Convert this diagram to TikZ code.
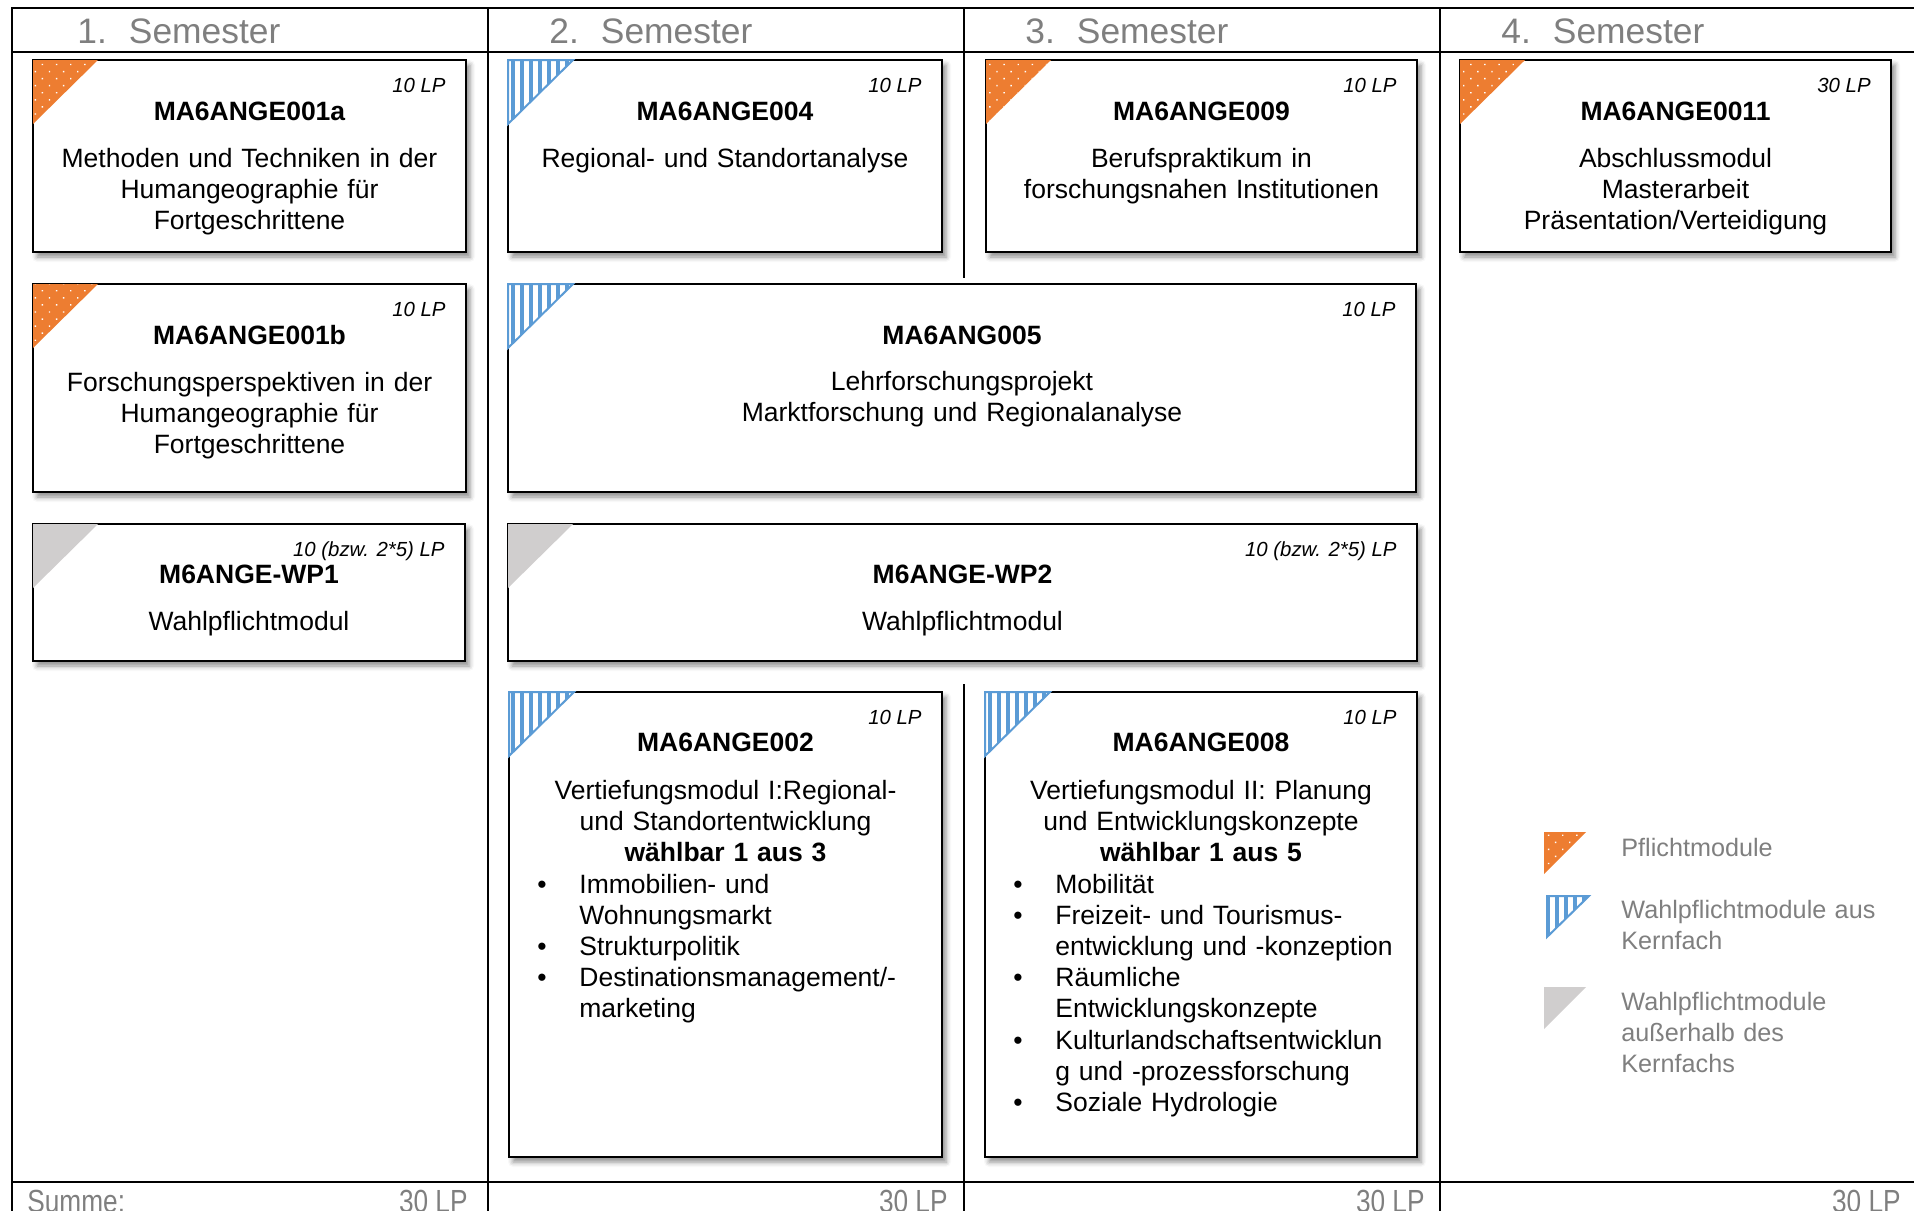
\documentclass[tikz,border=0pt]{standalone}
\usepackage{fontspec}
\setmainfont{Liberation Sans}
\usepackage{graphicx}
\usepackage{tikz}
\usetikzlibrary{patterns.meta}
\usetikzlibrary{shadows.blur}

\definecolor{pflichtorange}{HTML}{ED7D31}
\definecolor{kernblau}{HTML}{5B9BD5}
\definecolor{externgrau}{HTML}{D0CECE}
\definecolor{kopfgrau}{HTML}{7F7F7F}

\newcommand{\punkt}{\hangindent=21pt\hangafter=1\noindent\makebox[21pt][l]{\textbullet}}

\begin{document}
\begin{tikzpicture}[line cap=rect, x=0.5pt, y=-0.5pt,
    modul/.style={draw, line width=1.3pt, fill=white, inner sep=0pt, outer sep=0pt, anchor=north west, minimum height=96pt,
        blur shadow={shadow xshift=2pt, shadow yshift=-2.5pt, shadow blur radius=2.5pt, shadow opacity=45}},
    lp/.style={anchor=base east, inner sep=0pt, font=\fontsize{10.2}{12}\selectfont\itshape},
    titel/.style={anchor=base, inner sep=0pt, font=\fontsize{13.25}{15.6}\selectfont\bfseries},
    inhalt/.style={anchor=base, inner sep=0pt, text width=200pt, align=center, font=\fontsize{13.25}{15.6}\selectfont},
    liste/.style={anchor=base west, inner sep=0pt, text width=200pt, align=left, font=\fontsize{13.25}{15.6}\selectfont},
    kopf/.style={anchor=base west, inner sep=0pt, text=kopfgrau, font=\fontsize{17.7}{21}\selectfont},
    summe/.style={inner sep=0pt, text=kopfgrau, font=\fontsize{16}{19}\selectfont},
    legende/.style={anchor=base west, inner sep=0pt, text width=150pt, align=left, text=kopfgrau, font=\fontsize{12.6}{15.5}\selectfont},
    pflicht/.style={preaction={fill=pflichtorange}, pattern={Dots[angle=45, distance=5pt, radius=0.5pt]}, pattern color=white},
    kern/.style={preaction={fill=white}, pattern={Lines[angle=90, distance=4.5pt, line width=2.4pt]}, pattern color=kernblau, draw=kernblau, line width=1pt, line join=miter},
    extern/.style={fill=externgrau}]

    \useasboundingbox (0,0) rectangle (1914,1210);
    \clip (0,0) rectangle (1914,1210);

    % Tabelle
    \draw [line width=1pt] (12,8) -- (1914,8);
    \draw [line width=1pt] (12,52) -- (1914,52);
    \draw [line width=1pt] (12,1182) -- (1914,1182);
    \draw [line width=1pt] (12,8) -- (12,1210);
    \draw [line width=1pt] (488,8) -- (488,1210);
    \draw [line width=1pt] (964,8) -- (964,277);
    \draw [line width=1pt] (964,685) -- (964,1210);
    \draw [line width=1pt] (1440,8) -- (1440,1210);

    \node[kopf] (s1) at (77,43) {1.\hspace{11pt}Semester};
    \node[kopf] (s2) at (549,43) {2.\hspace{11pt}Semester};
    \node[kopf] (s3) at (1025,43) {3.\hspace{11pt}Semester};
    \node[kopf] (s4) at (1501,43) {4.\hspace{11pt}Semester};

    % 1. Semester
    \node[modul, minimum width=216.5pt] (m1a) at (33,60) {};
    \path[pflicht] (m1a.north west) -- ++(65,0) -- ++(-65,64) -- cycle;
    \node[lp] (m1a-lp) at ([xshift=-10pt, yshift=-16pt]m1a.north east) {10 LP};
    \node[titel] (m1a-t) at ([yshift=-30pt]m1a.north) {MA6ANGE001a};
    \node[inhalt] (m1a-i) at ([yshift=-53.5pt]m1a.north) {Methoden und Techniken in der\\Humangeographie für\\Fortgeschrittene};

    \node[modul, minimum width=216.5pt, minimum height=104pt] (m1b) at (33,284) {};
    \path[pflicht] (m1b.north west) -- ++(65,0) -- ++(-65,64) -- cycle;
    \node[lp] (m1b-lp) at ([xshift=-10pt, yshift=-16pt]m1b.north east) {10 LP};
    \node[titel] (m1b-t) at ([yshift=-30pt]m1b.north) {MA6ANGE001b};
    \node[inhalt] (m1b-i) at ([yshift=-53.5pt]m1b.north) {Forschungsperspektiven in der\\Humangeographie für\\Fortgeschrittene};

    \node[modul, minimum width=216pt, minimum height=68.5pt] (wp1) at (33,524) {};
    \path[extern] (wp1.north west) -- ++(65,0) -- ++(-65,64) -- cycle;
    \node[lp] (wp1-lp) at ([xshift=-10pt, yshift=-16pt]wp1.north east) {10 (bzw. 2*5) LP};
    \node[titel] (wp1-t) at ([yshift=-29.5pt]wp1.north) {M6ANGE-WP1};
    \node[inhalt] (wp1-i) at ([yshift=-53pt]wp1.north) {Wahlpflichtmodul};

    % 2. Semester
    \node[modul, minimum width=217pt] (m4) at (508,60) {};
    \path[kern] (m4.north west) -- ++(65,0) -- ++(-65,64) -- cycle;
    \node[lp] (m4-lp) at ([xshift=-10pt, yshift=-16pt]m4.north east) {10 LP};
    \node[titel] (m4-t) at ([yshift=-30pt]m4.north) {MA6ANGE004};
    \node[inhalt] (m4-i) at ([yshift=-53.5pt]m4.north) {Regional- und Standortanalyse};

    \node[modul, minimum width=454pt, minimum height=104pt] (m5) at (508,284) {};
    \path[kern] (m5.north west) -- ++(65,0) -- ++(-65,64) -- cycle;
    \node[lp] (m5-lp) at ([xshift=-10pt, yshift=-16pt]m5.north east) {10 LP};
    \node[titel] (m5-t) at ([yshift=-30pt]m5.north) {MA6ANG005};
    \node[inhalt, text width=400pt] (m5-i) at ([yshift=-53pt]m5.north) {Lehrforschungsprojekt\\Marktforschung und Regionalanalyse};

    \node[modul, minimum width=454.5pt, minimum height=68.5pt] (wp2) at (508,524) {};
    \path[extern] (wp2.north west) -- ++(65,0) -- ++(-65,64) -- cycle;
    \node[lp] (wp2-lp) at ([xshift=-10pt, yshift=-16pt]wp2.north east) {10 (bzw. 2*5) LP};
    \node[titel] (wp2-t) at ([yshift=-29.5pt]wp2.north) {M6ANGE-WP2};
    \node[inhalt] (wp2-i) at ([yshift=-53pt]wp2.north) {Wahlpflichtmodul};

    \node[modul, minimum width=216.5pt, minimum height=232.5pt] (m2) at (509,692) {};
    \path[kern] (m2.north west) -- ++(65,0) -- ++(-65,64) -- cycle;
    \node[lp] (m2-lp) at ([xshift=-10pt, yshift=-16pt]m2.north east) {10 LP};
    \node[titel] (m2-t) at ([yshift=-29.5pt]m2.north) {MA6ANGE002};
    \node[inhalt] (m2-i) at ([yshift=-53.5pt]m2.north) {Vertiefungsmodul I:Regional-\\und Standortentwicklung\\\textbf{wählbar 1 aus 3}};
    \node[liste] (m2-l) at ([xshift=14pt, yshift=-100.5pt]m2.north west) {\punkt Immobilien- und\newline Wohnungsmarkt\par
        \punkt Strukturpolitik\par
        \punkt Destinationsmanagement/-\newline marketing\par};

    % 3. Semester
    \node[modul, minimum width=215.5pt] (m9) at (986,60) {};
    \path[pflicht] (m9.north west) -- ++(65,0) -- ++(-65,64) -- cycle;
    \node[lp] (m9-lp) at ([xshift=-10pt, yshift=-16pt]m9.north east) {10 LP};
    \node[titel] (m9-t) at ([yshift=-30pt]m9.north) {MA6ANGE009};
    \node[inhalt] (m9-i) at ([yshift=-53.5pt]m9.north) {Berufspraktikum in\\forschungsnahen Institutionen};

    \node[modul, minimum width=216pt, minimum height=232.5pt] (m8) at (985,692) {};
    \path[kern] (m8.north west) -- ++(65,0) -- ++(-65,64) -- cycle;
    \node[lp] (m8-lp) at ([xshift=-10pt, yshift=-16pt]m8.north east) {10 LP};
    \node[titel] (m8-t) at ([yshift=-29.5pt]m8.north) {MA6ANGE008};
    \node[inhalt] (m8-i) at ([yshift=-53.5pt]m8.north) {Vertiefungsmodul II: Planung\\und Entwicklungskonzepte\\\textbf{wählbar 1 aus 5}};
    \node[liste] (m8-l) at ([xshift=14pt, yshift=-100.5pt]m8.north west) {\punkt Mobilität\par
        \punkt Freizeit- und Tourismus-\newline entwicklung und -konzeption\par
        \punkt Räumliche\newline Entwicklungskonzepte\par
        \punkt Kulturlandschaftsentwicklun\newline g und -prozessforschung\par
        \punkt Soziale Hydrologie\par};

    % 4. Semester
    \node[modul, minimum width=215.5pt] (m11) at (1460,60) {};
    \path[pflicht] (m11.north west) -- ++(65,0) -- ++(-65,64) -- cycle;
    \node[lp] (m11-lp) at ([xshift=-10pt, yshift=-16pt]m11.north east) {30 LP};
    \node[titel] (m11-t) at ([yshift=-30pt]m11.north) {MA6ANGE0011};
    \node[inhalt] (m11-i) at ([yshift=-53.5pt]m11.north) {Abschlussmodul\\Masterarbeit\\Präsentation/Verteidigung};

    % Legende
    \node[legende] (leg1) at (1621,856) {Pflichtmodule};
    \node[legende] (leg2) at (1621,918) {Wahlpflichtmodule aus\\Kernfach};
    \node[legende] (leg3) at (1621,1010) {Wahlpflichtmodule\\außerhalb des\\Kernfachs};
    \path[pflicht] (1544,832) -- ++(42,0) -- ++(-42,42) -- cycle;
    \path[kern] (1547,896) -- ++(42,0) -- ++(-42,41) -- cycle;
    \path[extern] (1544,987) -- ++(42,0) -- ++(-42,42) -- cycle;

    % Summe
    \node[summe, anchor=base west] (summe) at (27,1212) {\scalebox{0.82}[1]{Summe:}};
    \node[summe, anchor=base east] (lp1) at (468,1212) {\scalebox{0.82}[1]{30 LP}};
    \node[summe, anchor=base east] (lp2) at (948,1212) {\scalebox{0.82}[1]{30 LP}};
    \node[summe, anchor=base east] (lp3) at (1425,1212) {\scalebox{0.82}[1]{30 LP}};
    \node[summe, anchor=base east] (lp4) at (1901,1212) {\scalebox{0.82}[1]{30 LP}};
\end{tikzpicture}
\end{document}
